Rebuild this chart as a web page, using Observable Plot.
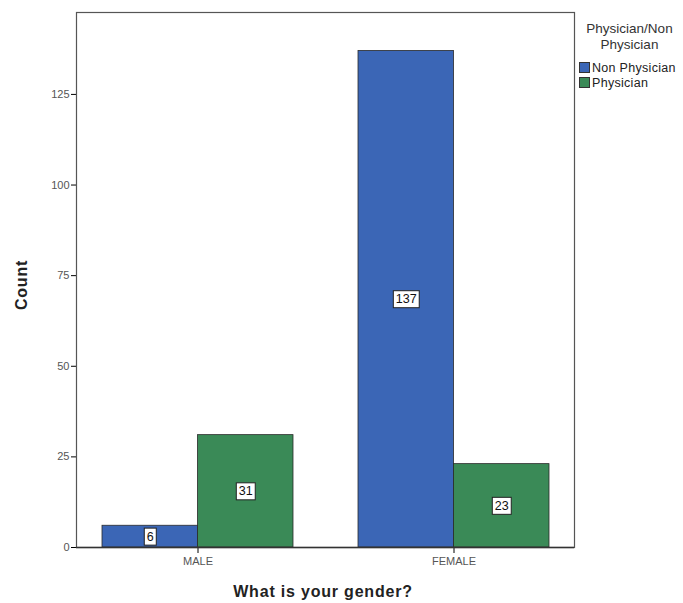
<!DOCTYPE html>
<html>
<head>
<meta charset="utf-8">
<script src="https://cdn.jsdelivr.net/npm/d3@7"></script>
<script src="https://cdn.jsdelivr.net/npm/@observablehq/plot@0.6"></script>
<style>
  html, body { margin: 0; padding: 0; background: #fff; }
  #wrap { position: relative; width: 683px; height: 603px; font-family: "Liberation Sans", Arial, sans-serif; }
  #wrap svg { position: absolute; left: 0; top: 0; }
  g[aria-label^="y-axis"] text, g[aria-label^="x-axis"] text { fill: #555; }
  .lbl { position: absolute; font-weight: bold; color: #222; font-size: 16px; letter-spacing: 0.8px; white-space: nowrap; }
  #ylab { left: 22px; top: 285px; transform: translate(-50%, -50%) rotate(-90deg); }
  #xlab { left: 323px; top: 592px; transform: translate(-50%, -50%); }
  #legend { position: absolute; left: 576px; top: 21px; width: 107px; color: #333; }
  #legend .title { text-align: center; font-size: 13.5px; line-height: 16px; }
  #legend .item { display: flex; align-items: center; font-size: 12.5px; letter-spacing: 0.3px; height: 15px; color: #222; }
  #legend .sw { width: 11px; height: 11px; margin-left: 3px; margin-right: 2px; border: 0.5px solid #333; box-sizing: border-box; }
</style>
</head>
<body>
<div id="wrap"></div>
<script>
const genders = ["MALE", "FEMALE"];
const types = ["Non Physician", "Physician"];
const nonPhysician = [6, 137];
const physician = [31, 23];
const yTicks = [0, 25, 50, 75, 100, 125];
const colors = ["#3b66b6", "#3a8a57"];

const data = [];
genders.forEach((g, i) => {
  data.push({gender: g, type: types[0], count: nonPhysician[i]});
  data.push({gender: g, type: types[1], count: physician[i]});
});

const W = 683, H = 603, mL = 76, mR = 109, mT = 12, mB = 56;
const pInner = 0.254, pOuter = 0.0996;
const step = (W - mL - mR) / (genders.length - pInner + 2 * pOuter);
const bw = step * (1 - pInner);
const half = bw / 2;

const nonData = data.filter(d => d.type === types[0]);
const phyData = data.filter(d => d.type === types[1]);

const chart = Plot.plot({
  width: W, height: H,
  marginLeft: mL, marginRight: mR, marginTop: mT, marginBottom: mB,
  style: {fontFamily: "Liberation Sans, Arial, sans-serif", fontSize: "11px", background: "#fff"},
  x: {domain: genders, paddingInner: pInner, paddingOuter: pOuter, label: null, tickSize: 6, tickPadding: 4},
  y: {domain: [0, 147.6], ticks: yTicks, tickFormat: d => String(d), tickSize: 5, tickPadding: 2, label: null},
  color: {domain: types, range: colors},
  marks: [
    Plot.barY(nonData, {x: "gender", y: "count", fill: "type", stroke: "#2a2a2a", strokeWidth: 0.8, insetRight: half}),
    Plot.barY(phyData, {x: "gender", y: "count", fill: "type", stroke: "#2a2a2a", strokeWidth: 0.8, insetLeft: half}),
    Plot.frame({stroke: "#555", strokeWidth: 1.2}),
    Plot.ruleY([0], {stroke: "#333", strokeWidth: 1.5}),
    Plot.text(nonData, {x: "gender", y: d => d.count / 2, text: d => String(d.count), dx: -bw / 4, fill: "#111", fontSize: 12.5}),
    Plot.text(phyData, {x: "gender", y: d => d.count / 2, text: d => String(d.count), dx: bw / 4, fill: "#111", fontSize: 12.5})
  ]
});

const wrap = document.getElementById("wrap");
wrap.appendChild(chart);

// white boxes behind value labels
chart.querySelectorAll('g[aria-label="text"] text').forEach(t => {
  const b = t.getBBox();
  const r = document.createElementNS("http://www.w3.org/2000/svg", "rect");
  r.setAttribute("x", b.x - 2.5);
  r.setAttribute("y", b.y - 1.5);
  r.setAttribute("width", b.width + 5);
  r.setAttribute("height", b.height + 3);
  r.setAttribute("fill", "#fff");
  r.setAttribute("stroke", "#222");
  r.setAttribute("stroke-width", "1");
  const tr = t.getAttribute("transform");
  if (tr) r.setAttribute("transform", tr);
  t.parentNode.insertBefore(r, t);
});

const ylab = document.createElement("div");
ylab.className = "lbl"; ylab.id = "ylab"; ylab.textContent = "Count";
wrap.appendChild(ylab);
const xlab = document.createElement("div");
xlab.className = "lbl"; xlab.id = "xlab"; xlab.textContent = "What is your gender?";
wrap.appendChild(xlab);

const legend = document.createElement("div");
legend.id = "legend";
legend.innerHTML = '<div class="title">Physician/Non<br>Physician</div><div style="height:7px"></div>' +
  types.map((t, i) => `<div class="item"><span class="sw" style="background:${colors[i]}"></span>${t}</div>`).join("");
wrap.appendChild(legend);
</script>
</body>
</html>
